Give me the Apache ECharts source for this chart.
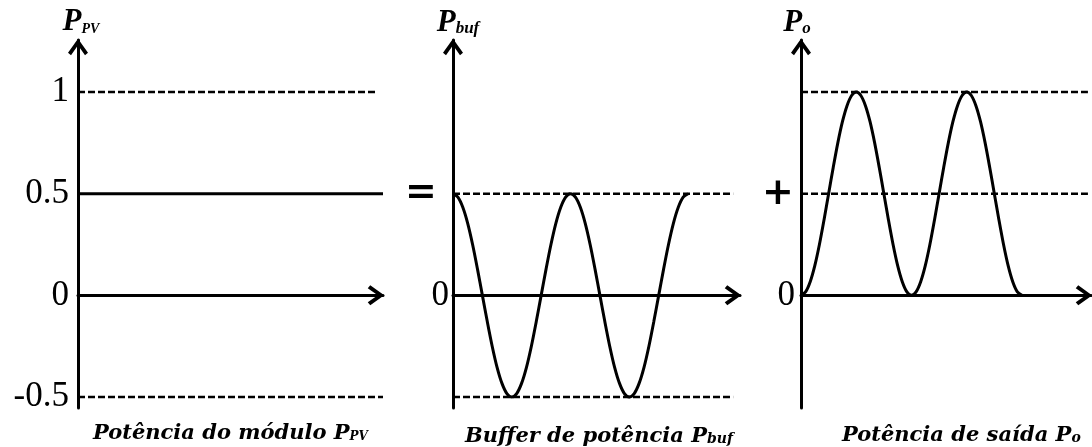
<!DOCTYPE html>
<html>
<head>
<meta charset="utf-8">
<script src="https://cdn.jsdelivr.net/npm/echarts@6/dist/echarts.min.js"></script>
<style>
  html, body { margin: 0; padding: 0; background: #fff; }
  #chart { width: 1092px; height: 447px; }
</style>
</head>
<body>
<div id="chart"></div>
<script>
// Phase of the grid voltage in degrees, two line cycles
const phaseDeg = [0, 15, 30, 45, 60, 75, 90, 105, 120, 135, 150, 165, 180,
                  195, 210, 225, 240, 255, 270, 285, 300, 315, 330, 345, 360,
                  375, 390, 405, 420, 435, 450, 465, 480, 495, 510, 525, 540,
                  555, 570, 585, 600, 615, 630, 645, 660, 675, 690, 705, 720];
// Power buffer (decoupling capacitor) — oscillates around zero
const pBuf = [0.5, 0.483, 0.433, 0.354, 0.25, 0.129, 0, -0.129, -0.25, -0.354, -0.433, -0.483, -0.5,
              -0.483, -0.433, -0.354, -0.25, -0.129, 0, 0.129, 0.25, 0.354, 0.433, 0.483, 0.5,
              0.483, 0.433, 0.354, 0.25, 0.129, 0, -0.129, -0.25, -0.354, -0.433, -0.483, -0.5,
              -0.483, -0.433, -0.354, -0.25, -0.129, 0, 0.129, 0.25, 0.354, 0.433, 0.483, 0.5];
// Output power delivered to the grid
const pOut = [0, 0.017, 0.067, 0.146, 0.25, 0.371, 0.5, 0.629, 0.75, 0.854, 0.933, 0.983, 1,
              0.983, 0.933, 0.854, 0.75, 0.629, 0.5, 0.371, 0.25, 0.146, 0.067, 0.017, 0,
              0.017, 0.067, 0.146, 0.25, 0.371, 0.5, 0.629, 0.75, 0.854, 0.933, 0.983, 1,
              0.983, 0.933, 0.854, 0.75, 0.629, 0.5, 0.371, 0.25, 0.146, 0.067, 0.017, 0];
// PV module power — constant
const pvLevel = 0.5;
// Reference levels drawn dashed in each panel
const pvRefLevels = [1, -0.5];
const bufRefLevels = [0.5, -0.5];
const outRefLevels = [1, 0.5];
// Tick labels on the vertical axes
const pvTicks = [-0.5, 0, 0.5, 1];
const zeroTick = [0];

// Horizontal extent of each panel's time axis (degrees)
const pvAxisMax = 900, bufAxisMax = 879, outAxisMax = 945;
const yMin = -0.554, yMax = 1.256;

const ink = '#000';
const arrow = 'path://M10,0L20,14L17,16.5L10,6.5L3,16.5L0,14Z';
const axisLine = {
  show: true,
  symbol: ['none', arrow],
  symbolSize: [20, 16.5],
  symbolOffset: [0, -7],
  lineStyle: { color: ink, width: 3 }
};

function xAxis(gridIndex, max) {
  return {
    type: 'value', gridIndex, min: 0, max,
    axisLine, axisTick: { show: false }, axisLabel: { show: false },
    splitLine: { show: false }
  };
}
function yAxis(gridIndex, ticks, margin) {
  return {
    type: 'value', gridIndex, min: yMin, max: yMax,
    axisLine, axisTick: { show: false }, splitLine: { show: false },
    axisLabel: {
      customValues: ticks, margin,
      color: ink, fontFamily: 'Liberation Serif', fontSize: 35
    }
  };
}
function refLine(axisIdx, level, xEnd, dashed) {
  return {
    type: 'line', xAxisIndex: axisIdx, yAxisIndex: axisIdx,
    symbol: 'none', silent: true,
    data: [[0, level], [xEnd, level]],
    lineStyle: { color: ink, width: dashed ? 2.5 : 3, type: dashed ? [7, 3] : 'solid' }
  };
}
function curve(axisIdx, values) {
  return {
    type: 'line', xAxisIndex: axisIdx, yAxisIndex: axisIdx,
    symbol: 'none', smooth: 0.3, silent: true,
    data: phaseDeg.map((d, i) => [d, values[i]]),
    lineStyle: { color: ink, width: 3 }
  };
}

function caption(x, y, main, sub, family, size, subSize, align) {
  const base = { fontFamily: family, fontStyle: 'italic', fontWeight: 'bold', fill: ink };
  return {
    type: 'text', x, y,
    style: {
      text: '{m|' + main + '}{s|' + sub + '}',
      align, verticalAlign: 'bottom',
      rich: {
        m: Object.assign({ fontSize: size, verticalAlign: 'bottom' }, base),
        s: Object.assign({ fontSize: subSize, verticalAlign: 'bottom', padding: [0, 0, 1, 0] }, base)
      }
    }
  };
}
function sign(x, y, ch) {
  return {
    type: 'text', x, y,
    style: { text: ch, align: 'center', verticalAlign: 'middle',
             fontFamily: 'DejaVu Sans', fontWeight: 'bold', fontSize: 38, fill: ink }
  };
}

const chart = echarts.init(document.getElementById('chart'), null, { renderer: 'canvas' });
chart.setOption({
  backgroundColor: '#fff',
  animation: false,
  grid: [
    { left: 78, right: 709, top: 40, bottom: 39, outerBoundsMode: 'none' },
    { left: 453, right: 352, top: 40, bottom: 39, outerBoundsMode: 'none' },
    { left: 801, right: 1, top: 40, bottom: 39, outerBoundsMode: 'none' }
  ],
  xAxis: [xAxis(0, pvAxisMax), xAxis(1, bufAxisMax), xAxis(2, outAxisMax)],
  yAxis: [yAxis(0, pvTicks, 9), yAxis(1, zeroTick, 4), yAxis(2, zeroTick, 6)],
  series: [
    refLine(0, pvLevel, pvAxisMax, false),
    refLine(0, pvRefLevels[0], 877, true),
    refLine(0, pvRefLevels[1], pvAxisMax, true),
    refLine(1, bufRefLevels[0], 858, true),
    refLine(1, bufRefLevels[1], 858, true),
    curve(1, pBuf),
    refLine(2, outRefLevels[0], 935, true),
    refLine(2, outRefLevels[1], 935, true),
    curve(2, pOut)
  ],
  graphic: [
    caption(81, 37, 'P', 'PV', 'Liberation Serif', 31, 14, 'center'),
    caption(458, 38, 'P', 'buf', 'Liberation Serif', 31, 17, 'center'),
    caption(797, 38, 'P', 'o', 'Liberation Serif', 31, 17, 'center'),
    caption(93, 444, 'Potência do módulo P', 'PV', 'DejaVu Serif', 21, 12, 'left'),
    caption(465, 447, 'Buffer de potência P', 'buf', 'DejaVu Serif', 21, 14, 'left'),
    caption(842, 446, 'Potência de saída P', 'o', 'DejaVu Serif', 21, 14, 'left'),
    sign(421, 193, '='),
    sign(778, 194, '+')
  ]
});
</script>
</body>
</html>
